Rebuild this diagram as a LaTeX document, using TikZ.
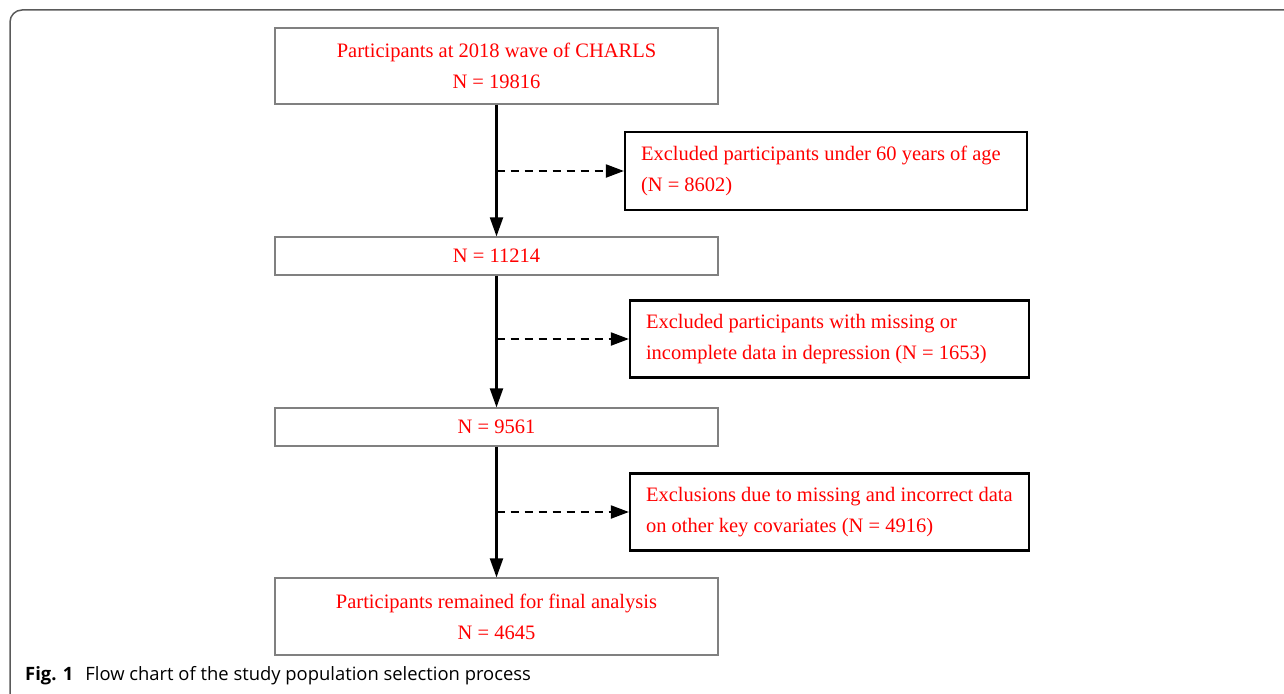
\documentclass[tikz,border=0pt]{standalone}
\usepackage{fontspec}
\setmainfont{Liberation Serif}
\newfontfamily\capfont{Open Sans}
\usetikzlibrary{arrows.meta}
\definecolor{boxgray}{RGB}{128,128,128}
\definecolor{framegray}{RGB}{90,90,90}
\definecolor{txtred}{RGB}{255,0,0}
\begin{document}
\begin{tikzpicture}[x=1pt,y=-1pt,
  mainbox/.style={draw=boxgray,line width=1.2pt,minimum width=443pt,text=txtred,align=center,
    font=\fontsize{20.5}{31}\selectfont,inner sep=0pt},
  exclbox/.style={draw=black,line width=2.2pt,text=txtred,align=left,
    font=\fontsize{20.5}{31}\selectfont,inner sep=0pt},
  flow/.style={line width=2.05pt,-{Triangle[length=19pt,width=13pt]}},
  side/.style={line width=2pt,dash pattern=on 8pt off 6pt,-{Triangle[length=18pt,width=13pt]}}]
\useasboundingbox (0,0) rectangle (1284,693);
\draw[framegray,line width=1.5pt,rounded corners=12pt] (10,700) -- (10,10) -- (1300,10);
\node[mainbox,minimum height=76pt] (b1) at (496.5,66) {Participants at 2018 wave of CHARLS\\N = 19816};
\node[exclbox,minimum width=402pt,minimum height=78pt] (e1) at (826,171) {\parbox{370pt}{Excluded participants under 60 years of age\\(N = 8602)}};
\node[mainbox,minimum height=38pt] (b2) at (496.5,256) {N = 11214};
\node[exclbox,minimum width=399pt,minimum height=77pt] (e2) at (829.5,339) {\parbox{367pt}{Excluded participants with missing or\\incomplete data in depression (N = 1653)}};
\node[mainbox,minimum height=38pt] (b3) at (496.5,427) {N = 9561};
\node[exclbox,minimum width=399pt,minimum height=77pt] (e3) at (829.5,512) {\parbox{367pt}{Exclusions due to missing and incorrect data\\on other key covariates (N = 4916)}};
\node[mainbox,minimum height=77pt] (b4) at (496.5,616.5) {Participants remained for final analysis\\N = 4645};
\draw[flow] (b1.south) -- (b2.north);
\draw[flow] (b2.south) -- (b3.north);
\draw[flow] (b3.south) -- (b4.north);
\draw[side] (b1.south |- e1.west) -- (e1.west);
\draw[side] (b2.south |- e2.west) -- (e2.west);
\draw[side] (b3.south |- e3.west) -- (e3.west);
\node[anchor=west,inner sep=0pt,font=\capfont\fontsize{18.4}{20}\selectfont] (cap) at (25,676) {\textbf{Fig. 1}\hspace{12pt}Flow chart of the study population selection process};
\end{tikzpicture}
\end{document}
